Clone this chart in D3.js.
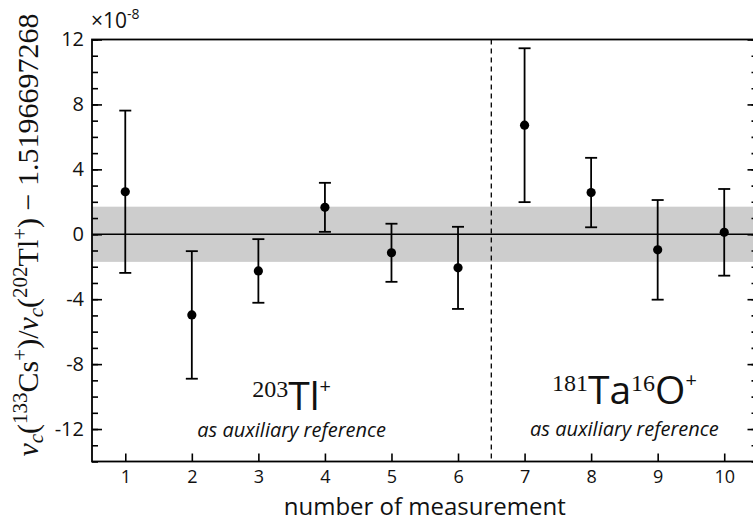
<!DOCTYPE html>
<html>
<head>
<meta charset="utf-8">
<script src="https://cdn.jsdelivr.net/npm/d3@7"></script>
<style>
  html, body { margin: 0; padding: 0; background: #fff; }
  svg { display: block; }
  .tick text { font-family: "Open Sans", sans-serif; fill: #111; }
</style>
</head>
<body>
<svg id="chart" width="753" height="522"></svg>
<script>
// Frequency-ratio residuals per measurement (units of 1e-8)
const measurements = [1, 2, 3, 4, 5, 6, 7, 8, 9, 10];
const values = [2.62, -4.97, -2.26, 1.66, -1.14, -2.07, 6.72, 2.57, -0.96, 0.12];
const errors = [5.00, 3.93, 1.96, 1.51, 1.79, 2.53, 4.74, 2.14, 3.07, 2.67];
// Half-width of the shaded uncertainty band of the mean
const bandHalfWidth = 1.7;
// Boundary between the two reference series
const splitAt = 6.5;
const yMajorTicks = [-12, -8, -4, 0, 4, 8, 12];
const yMinorTicks = d3.range(-14, 13, 1);
const xTicks = [1, 2, 3, 4, 5, 6, 7, 8, 9, 10];

const svg = d3.select("#chart");
const margin = { left: 92, top: 39.5, right: -4.5, bottom: 60.5 };
const W = 753, H = 522;

const x = d3.scaleLinear().domain([0.5, 10.5]).range([margin.left, W - margin.right]);
const y = d3.scaleLinear().domain([-14, 12]).range([H - margin.bottom, margin.top]);

// shaded band
svg.append("rect")
  .attr("x", x(0.5)).attr("width", x(10.5) - x(0.5))
  .attr("y", y(bandHalfWidth)).attr("height", y(-bandHalfWidth) - y(bandHalfWidth))
  .attr("fill", "#cdcdcd");

// zero line
svg.append("line")
  .attr("x1", x(0.5)).attr("x2", x(10.5))
  .attr("y1", y(0)).attr("y2", y(0))
  .attr("stroke", "#000").attr("stroke-width", 1.5);

// split line
svg.append("line")
  .attr("x1", x(splitAt)).attr("x2", x(splitAt))
  .attr("y1", y(12)).attr("y2", y(-14))
  .attr("stroke", "#000").attr("stroke-width", 1.3)
  .attr("stroke-dasharray", "5,4");

// axes
const fmt = d => String(d);
function styleAxis(g) {
  g.select(".domain").remove();
  g.selectAll(".tick line").attr("stroke", "#000").attr("stroke-width", 1.6);
}
svg.append("g").attr("transform", `translate(${x(0.5)},0)`)
  .call(d3.axisLeft(y).tickValues(yMinorTicks).tickSize(-6).tickFormat(""))
  .call(styleAxis);
svg.append("g").attr("transform", `translate(${x(0.5)},0)`)
  .call(d3.axisLeft(y).tickValues(yMajorTicks).tickSize(-10).tickPadding(8).tickFormat(fmt))
  .call(styleAxis)
  .selectAll("text").attr("font-size", 20);
svg.append("g").attr("transform", `translate(${x(10.5)},0)`)
  .call(d3.axisRight(y).tickValues(yMinorTicks).tickSize(-6).tickFormat(""))
  .call(styleAxis);
svg.append("g").attr("transform", `translate(${x(10.5)},0)`)
  .call(d3.axisRight(y).tickValues(yMajorTicks).tickSize(-10).tickFormat(""))
  .call(styleAxis);
svg.append("g").attr("transform", `translate(0,${y(-14)})`)
  .call(d3.axisBottom(x).tickValues(xTicks).tickSize(-8).tickPadding(9).tickFormat(fmt))
  .call(styleAxis)
  .selectAll("text").attr("font-size", 18);

// frame
svg.append("rect")
  .attr("x", x(0.5)).attr("y", y(12))
  .attr("width", x(10.5) - x(0.5)).attr("height", y(-14) - y(12))
  .attr("fill", "none").attr("stroke", "#000").attr("stroke-width", 1.8);

// error bars and points
const pts = measurements.map((m, i) => ({ m, v: values[i], e: errors[i] }));
const capW = 6;
const eb = svg.append("g").attr("stroke", "#000").attr("stroke-width", 1.8);
eb.selectAll("line.v").data(pts).join("line")
  .attr("x1", d => x(d.m)).attr("x2", d => x(d.m))
  .attr("y1", d => y(d.v + d.e)).attr("y2", d => y(d.v - d.e));
eb.selectAll("line.t").data(pts).join("line")
  .attr("x1", d => x(d.m) - capW).attr("x2", d => x(d.m) + capW)
  .attr("y1", d => y(d.v + d.e)).attr("y2", d => y(d.v + d.e));
eb.selectAll("line.b").data(pts).join("line")
  .attr("x1", d => x(d.m) - capW).attr("x2", d => x(d.m) + capW)
  .attr("y1", d => y(d.v - d.e)).attr("y2", d => y(d.v - d.e));
svg.append("g").selectAll("circle").data(pts).join("circle")
  .attr("cx", d => x(d.m)).attr("cy", d => y(d.v)).attr("r", 4.6).attr("fill", "#000");

// exponent marker
const ex = svg.append("text").attr("x", x(0.5) - 1).attr("y", 28)
  .attr("font-family", "Open Sans, sans-serif").attr("font-size", 21).attr("fill", "#111");
ex.append("tspan").text("×10");
ex.append("tspan").attr("font-size", 14).attr("dy", -9).text("-8");

// series annotations, centred in each group of measurements
const leftCentre = (0.5 + splitAt) / 2;
const rightCentre = (splitAt + 10.5) / 2;
function isoLabel(cx, baseline, parts) {
  const t = svg.append("text").attr("x", cx).attr("y", baseline)
    .attr("text-anchor", "middle").attr("fill", "#111");
  parts.forEach(p => {
    const s = t.append("tspan").text(p.text).attr("font-size", p.size)
      .attr("font-family", p.serif ? "Liberation Serif, serif" : "Open Sans, sans-serif");
    if (p.dy) s.attr("dy", p.dy);
  });
  return t;
}
isoLabel(x(leftCentre), 410, [
  { text: "203", size: 24, serif: true, dy: -13 },
  { text: "Tl", size: 39, dy: 13 },
  { text: "+", size: 20, dy: -17 }
]);
isoLabel(x(rightCentre), 404, [
  { text: "181", size: 24, serif: true, dy: -13 },
  { text: "Ta", size: 39, dy: 13 },
  { text: "16", size: 24, serif: true, dy: -13 },
  { text: "O", size: 39, dy: 13 },
  { text: "+", size: 20, dy: -17 }
]);
svg.append("text").attr("x", x(leftCentre)).attr("y", 437).attr("text-anchor", "middle")
  .attr("font-family", "Open Sans, sans-serif").attr("font-style", "italic")
  .attr("font-size", 20).attr("fill", "#111").text("as auxiliary reference");
svg.append("text").attr("x", x(rightCentre)).attr("y", 436).attr("text-anchor", "middle")
  .attr("font-family", "Open Sans, sans-serif").attr("font-style", "italic")
  .attr("font-size", 20).attr("fill", "#111").text("as auxiliary reference");

// x-axis title
svg.append("text").attr("x", (x(0.5) + x(10.5)) / 2).attr("y", 515).attr("text-anchor", "middle")
  .attr("font-family", "Open Sans, sans-serif").attr("font-size", 24).attr("fill", "#111")
  .text("number of measurement");

// y-axis title (math)
const yl = svg.append("text")
  .attr("transform", `translate(38,235) rotate(-90)`)
  .attr("text-anchor", "middle")
  .attr("font-family", "Liberation Serif, serif").attr("font-size", 30).attr("fill", "#111");
const seg = (txt, o = {}) => {
  const s = yl.append("tspan").text(txt);
  if (o.italic) s.attr("font-style", "italic");
  if (o.size) s.attr("font-size", o.size);
  if (o.dy) s.attr("dy", o.dy);
  return s;
};
seg("ν", { italic: true });
seg("c", { italic: true, size: 21, dy: 5 });
seg("(", { dy: -5 });
seg("133", { size: 21, dy: -11 });
seg("Cs", { dy: 11 });
seg("+", { size: 21, dy: -11 });
seg(")/", { dy: 11 });
seg("ν", { italic: true });
seg("c", { italic: true, size: 21, dy: 5 });
seg("(", { dy: -5 });
seg("202", { size: 21, dy: -11 });
seg("Tl", { dy: 11 });
seg("+", { size: 21, dy: -11 });
seg(") − 1.5196697268", { dy: 11 });
</script>
</body>
</html>
